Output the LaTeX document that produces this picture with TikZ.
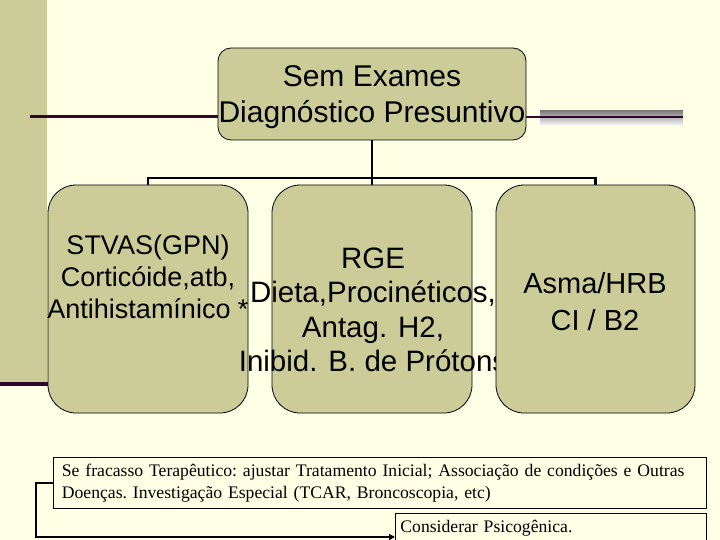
\documentclass[tikz,border=0pt]{standalone}
\usepackage{fontspec}
\setmainfont{Liberation Sans}
\newfontfamily\tms{Liberation Serif}
\usetikzlibrary{arrows.meta}
\definecolor{bg}{RGB}{255,255,229}
\definecolor{olivefill}{RGB}{204,204,153}
\definecolor{bandfill}{RGB}{204,204,153}
\definecolor{plum}{RGB}{46,8,44}
\definecolor{shade}{RGB}{178,178,178}
\tikzset{
  treebox/.style={draw=black, line width=0.8pt, fill=olivefill, rounded corners=28pt, inner sep=0pt},
  topbox/.style={draw=black, line width=0.8pt, fill=olivefill, rounded corners=13pt, inner sep=0pt},
  boxtext/.style={align=center, inner sep=0pt},
  tree/.style={draw=black, line width=2.5pt},
  rule/.style={draw=plum, line width=3pt},
  notebox/.style={draw=black, line width=0.8pt, fill=bg, align=left, inner ysep=2pt, font=\tms\frenchspacing\fontsize{17.65}{22}\selectfont},
  link/.style={draw=black, line width=2.5pt, -{Triangle[length=6pt,width=6pt]}}
}
\begin{document}
\begin{tikzpicture}[x=1pt,y=-1pt]
\clip (0,0) rectangle (720,540);
\useasboundingbox (0,0) rectangle (720,540);
\fill[bg] (0,0) rectangle (720,540);
% left band
\fill[bandfill] (0,0) rectangle (47,383);
\fill[plum] (0,382) rectangle (48,386);
% horizontal rules beside title
\fill[shade] (540,111) rectangle (683,126);
\coordinate (ruleL) at (30,117);
\coordinate (ruleR) at (683,117);
% title box
\node[topbox, minimum width=308, minimum height=92] (top) at (372,94) {};
\node[boxtext, font=\fontsize{30}{36}\selectfont] (toptext) at (372,97) {Sem Exames\\Diagnóstico Presuntivo};
\draw[rule] (ruleL) -- (top.west |- ruleL);
\draw[rule, line width=2.5pt] (top.east |- ruleR) -- (ruleR);
% tree boxes and texts
\node[treebox, minimum width=200, minimum height=228] (b1) at (148,299) {};
\node[boxtext, font=\fontsize{27}{32}\selectfont] (t1) at (148,277) {STVAS(GPN)\\Corticóide,atb,\\Antihistamínico *};
\node[treebox, minimum width=200, minimum height=228] (b2) at (372,299) {};
\node[boxtext, font=\fontsize{29.5}{34.5}\selectfont] (t2) at (373,310) {RGE\\Dieta,Procinéticos,\\Antag. H2,\\Inibid. B. de Prótons};
\node[treebox, minimum width=199, minimum height=228] (b3) at (595.5,299) {};
\node[boxtext, font=\fontsize{29}{37}\selectfont] (t3) at (595,302) {Asma/HRB\\CI / B2};
% tree connectors
\coordinate (hub) at (372,178);
\draw[tree] (top.south) -- (hub);
\draw[tree] (b1.north) -- (b1.north |- hub) -- (b3.north |- hub) -- (b3.north);
\draw[tree] (hub) -- (b2.north);
% bottom notes
\node[notebox, anchor=north west, inner xsep=8.5pt, text width=636pt, minimum height=51] (n1) at (53,457)
  {Se fracasso Terapêutico: ajustar Tratamento Inicial; Associação de condições e Outras\\Doenças. Investigação Especial (TCAR, Broncoscopia, etc)};
\node[notebox, anchor=north west, inner xsep=5pt, text width=301pt, minimum height=30] (n2) at (395,513)
  {Considerar Psicogênica.};
\coordinate (c1) at (36,483);
\coordinate (c2) at (36,537);
\draw[link] (n1.west |- c1) -- (c1) -- (c2) -- (n2.west |- c2);
\end{tikzpicture}
\end{document}
